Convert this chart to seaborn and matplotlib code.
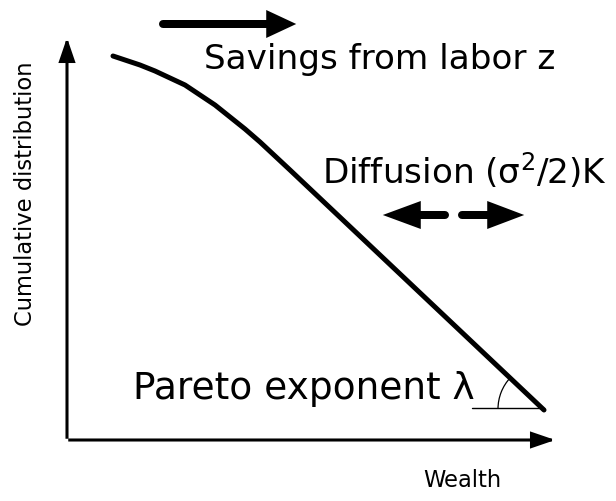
import numpy as np
import matplotlib
matplotlib.use("Agg")
import matplotlib.pyplot as plt
import seaborn as sns
from matplotlib.patches import FancyArrowPatch, Arc

# schematic wealth distribution (pixel-like units, origin at the axes corner)
wealth = [46, 58, 73, 88, 103, 118, 133, 148, 163, 178, 193, 208, 223, 477]
cum_dist = [384, 380, 375, 369, 362, 355, 345, 335, 323, 311, 298, 284, 270, 30]

x_label = "Wealth"
y_label = "Cumulative distribution"
savings_text = "Savings from labor z"
diffusion_text = r"Diffusion ($\mathregular{\sigma^2}$/2)K"
pareto_text = "Pareto exponent λ"

sns.set_style("white")
plt.rcParams['font.family'] = ['DejaVu Sans']
plt.rcParams['text.color'] = 'black'

fig = plt.figure(figsize=(6.16, 5.02), dpi=100)
ax = fig.add_axes([0, 0, 1, 1])
ax.set_xlim(-67, 549)
ax.set_ylim(-61, 441)
ax.axis("off")

# pixels -> points
px = 0.72

def arrow(x0, y0, x1, y1, hl, hw, tw):
    ax.plot([x0, x1 - (hl * 0.5 if x1 > x0 else -hl * 0.5)], [y0, y1], color="black",
            lw=tw * px, solid_capstyle="round")
    a = FancyArrowPatch((x0, y0), (x1, y1), mutation_scale=1, color="black", lw=0,
                        arrowstyle=f"simple,head_length={hl * px},head_width={hw * px},tail_width={tw * px}")
    ax.add_patch(a)

# axes arrows
for (x1, y1) in [(0, 405), (491, 0)]:
    ax.add_patch(FancyArrowPatch((0, 0), (x1, y1), mutation_scale=1, color="black", lw=2.2,
                                 arrowstyle=f"-|>,head_length={19 * px},head_width={6.5 * px}",
                                 capstyle="projecting", joinstyle="miter"))

# curve
sns.lineplot(x=wealth, y=cum_dist, color="black", lw=3.6, ax=ax, sort=False)
ax.lines[-1].set_solid_capstyle("round")
ax.lines[-1].set_solid_joinstyle("round")

# angle marker
ax.plot([405, 477], [32, 32], color="black", lw=1.0)
ax.add_patch(Arc((477, 31), 92, 92, theta1=137, theta2=180, color="black", lw=0.9))

# big arrows
arrow(96, 416, 232, 416, 30, 28, 8)
arrow(378, 225, 313, 225, 38, 28, 8)
arrow(395, 225, 460, 225, 37, 28, 8)

# texts
ax.text(137, 372, savings_text, fontsize=24.7, va="baseline", ha="left", color="black")
ax.text(255, 258, diffusion_text, fontsize=24.7, va="baseline", ha="left", color="black")
ax.text(66, 42, pareto_text, fontsize=27, va="baseline", ha="left", color="black")
ax.text(356, -46, x_label, fontsize=16.3, va="baseline", ha="left", color="black")
ax.text(-41, 247, y_label, fontsize=16.3, rotation=90, va="center", ha="center", color="black")

fig.savefig("out.png", dpi=100)
